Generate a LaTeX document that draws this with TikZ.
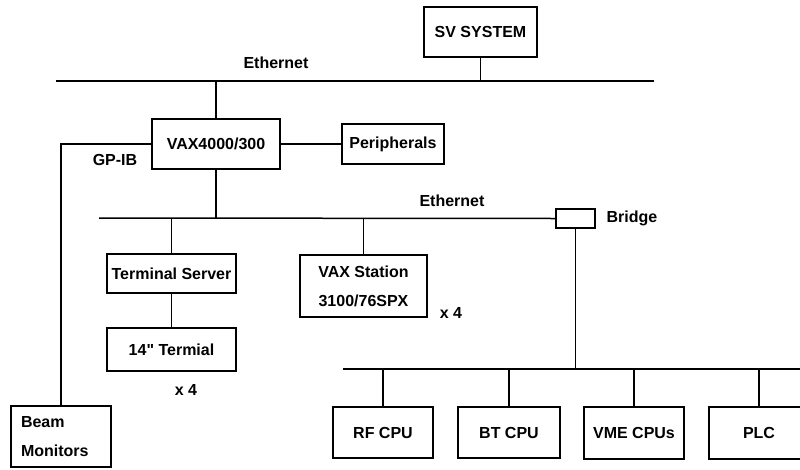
\documentclass[tikz,border=0pt]{standalone}
\usepackage{fontspec}
\newfontfamily\diag{Liberation Sans}
\begin{document}
\begin{tikzpicture}[x=1pt,y=-1pt,
  every node/.style={font=\diag\fontsize{16}{18}\selectfont\bfseries},
  box/.style={draw, line width=1.5pt, minimum width=#1, inner sep=0pt},
  wire/.style={line width=1.5pt},
  lbl/.style={inner sep=0pt}]
\useasboundingbox (0,0) rectangle (800,469);
% nodes
\node[box=113pt, minimum height=50pt] (sv) at (480.5,32) {SV SYSTEM};
\node[box=128pt, minimum height=50pt] (vax) at (216,144) {VAX4000/300};
\node[box=102pt, minimum height=40pt] (per) at (393,144) {Peripherals};
\node[box=129pt, minimum height=39pt] (ts) at (171.5,273.5) {Terminal Server};
\node[box=127pt, minimum height=62pt, align=center, font=\diag\fontsize{16}{29}\selectfont\bfseries] (vs) at (363.5,286) {VAX Station\\3100/76SPX};
\node[box=129pt, minimum height=43pt] (term) at (171.5,349.5) {14" Termial};
\node[box=100pt, minimum height=61pt, align=left, text width=80pt, inner xsep=10pt, font=\diag\fontsize{16}{29}\selectfont\bfseries] (beam) at (61,436.5) {Beam\\Monitors};
\node[box=39pt, minimum height=19pt] (bridge) at (575.5,218.5) {};
\node[box=100pt, minimum height=51pt] (rf) at (383,432.5) {RF CPU};
\node[box=102pt, minimum height=51pt] (bt) at (509,432.5) {BT CPU};
\node[box=100pt, minimum height=52pt] (vme) at (634,433) {VME CPUs};
\node[box=100pt, minimum height=52pt] (plc) at (759,433) {PLC};
% bus coordinates
\coordinate (b1l) at (56,81);
\coordinate (b1r) at (654,81);
\coordinate (b2l) at (99,218);
\coordinate (b3l) at (343,369);
\coordinate (b3r) at (800,369);
\coordinate (gp) at (61,144);
% buses
\draw[wire] (b1l) -- (b1r);
\draw[wire] (b2l) -- (bridge.west);
\draw[wire] (b3l) -- (b3r);
% connectors
\draw[wire] (sv.south) -- (sv.south |- b1l);
\draw[wire] (vax.north) -- (vax.north |- b1l);
\draw[wire] (vax.east) -- (per.west);
\draw[wire] (vax.west) -- (gp) -- (beam.north);
\draw[wire] (vax.south) -- (vax.south |- b2l);
\draw[wire] (ts.north) -- (ts.north |- b2l);
\draw[wire] (ts.south) -- (term.north);
\draw[wire] (vs.north) -- (vs.north |- b2l);
\draw[wire] (bridge.south) -- (bridge.south |- b3l);
\draw[wire] (rf.north) -- (rf.north |- b3l);
\draw[wire] (bt.north) -- (bt.north |- b3l);
\draw[wire] (vme.north) -- (vme.north |- b3l);
\draw[wire] (plc.north) -- (plc.north |- b3l);
% labels
\node[lbl] (eth1) at (276,63) {Ethernet};
\node[lbl] (eth2) at (452,201) {Ethernet};
\node[lbl] (brl) at (632,218) {Bridge};
\node[lbl] (gpib) at (115,160) {GP-IB};
\node[lbl] (x4a) at (451,313) {x 4};
\node[lbl] (x4b) at (186,390) {x 4};
\end{tikzpicture}
\end{document}
